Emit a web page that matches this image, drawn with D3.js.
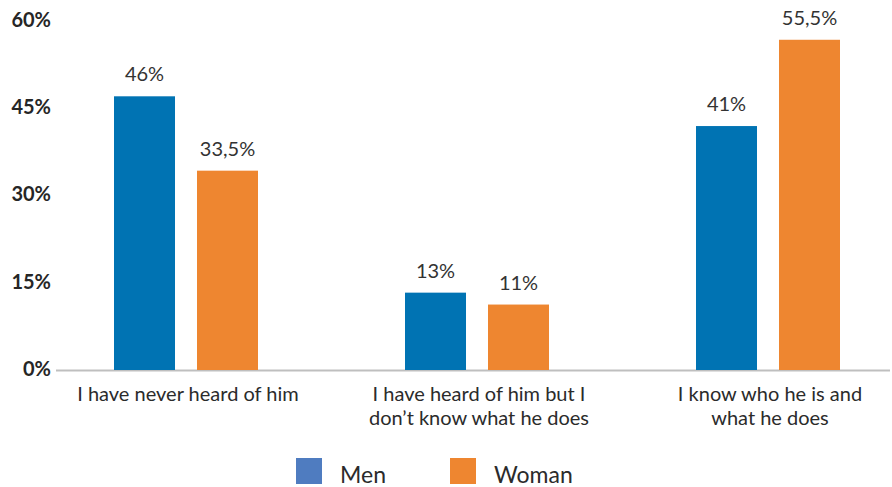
<!DOCTYPE html>
<html><head><meta charset="utf-8">
<script src="https://cdn.jsdelivr.net/npm/d3@7"></script>
<style>body{margin:0;background:#fff}svg{display:block}</style>
</head><body>
<svg id="c" width="892" height="487"></svg>
<script>
const categories = [["I have never heard of him"], ["I have heard of him but I", "don’t know what he does"], ["I know who he is and", "what he does"]];
const seriesNames = ["Men", "Woman"];
const men = [46, 13, 41];
const woman = [33.5, 11, 55.5];
const valueLabels = [["46%", "13%", "41%"], ["33,5%", "11%", "55,5%"]];
const tickValues = [0, 15, 30, 45, 60];
const tickLabels = ["0%", "15%", "30%", "45%", "60%"];

const barColors = ["#0073B3", "#EE8630"];
const legendColors = ["#4F7CC0", "#EE8630"];
const font = "Lato, 'Open Sans', sans-serif";

const svg = d3.select("#c");
const y = d3.scaleLinear().domain([0, 60]).range([370, 13]);
const yAxisScale = d3.scaleLinear().domain([0, 60]).range([369, 20]);
const x = d3.scalePoint().domain(d3.range(categories.length)).range([186, 768]);
const xs = d3.scaleBand().domain([0, 1]).range([-72, 72]).paddingInner(0.265);

// axis line
svg.append("line").attr("x1", 56).attr("x2", 890).attr("y1", 370.5).attr("y2", 370.5)
  .attr("stroke", "#BFBFBF").attr("stroke-width", 2);

// y tick labels
const yAxis = d3.axisLeft(yAxisScale).tickValues(tickValues).tickFormat((d, i) => tickLabels[i]).tickSize(0).tickPadding(0);
const ga = svg.append("g").attr("transform", "translate(51,0)").call(yAxis);
ga.select(".domain").remove();
ga.selectAll("text").attr("font-family", font).attr("font-size", 20).attr("font-weight", "bold").attr("fill", "#262626");

const series = [men, woman];
series.forEach((vals, s) => {
  const g = svg.append("g");
  g.selectAll("rect").data(vals).join("rect")
    .attr("x", (d, i) => x(i) + xs(s))
    .attr("width", xs.bandwidth())
    .attr("y", d => y(d))
    .attr("height", d => y(0) - y(d))
    .attr("fill", barColors[s]);
  g.selectAll("text").data(vals).join("text")
    .attr("x", (d, i) => x(i) + xs(s) + xs.bandwidth() / 2)
    .attr("y", d => y(d) - 15)
    .attr("text-anchor", "middle")
    .attr("font-family", font).attr("font-size", 20).attr("fill", "#333")
    .text((d, i) => valueLabels[s][i]);
});

// x labels
categories.forEach((lines, i) => {
  const t = svg.append("text").attr("text-anchor", "middle")
    .attr("font-family", font).attr("font-size", 20).attr("fill", "#2b2b2b");
  lines.forEach((ln, j) => {
    t.append("tspan").attr("x", x(i) + 2).attr("y", 401 + j * 24).text(ln);
  });
});

// legend
const legX = [296, 450];
seriesNames.forEach((n, i) => {
  svg.append("rect").attr("x", legX[i]).attr("y", 458).attr("width", 26).attr("height", 26).attr("fill", legendColors[i]);
  svg.append("text").attr("x", legX[i] + 44).attr("y", 483)
    .attr("font-family", font).attr("font-size", 23).attr("fill", "#2b2b2b").text(n);
});
</script>
</body></html>
